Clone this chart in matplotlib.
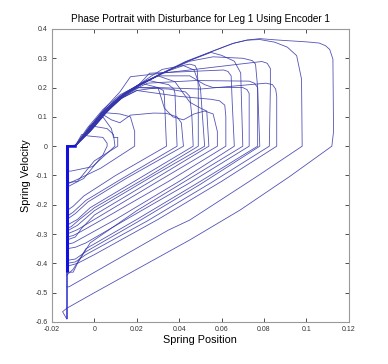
import matplotlib
matplotlib.use("Agg")
import matplotlib.pyplot as plt

# ---------------- data ----------------
title = "Phase Portrait with Disturbance for Leg 1 Using Encoder 1"
x_label = "Spring Position"
y_label = "Spring Velocity"
x_ticks = [-0.02, 0, 0.02, 0.04, 0.06, 0.08, 0.1, 0.12]
x_tick_labels = ["-0.02", "0", "0.02", "0.04", "0.06", "0.08", "0.1", "0.12"]
y_ticks = [-0.6, -0.5, -0.4, -0.3, -0.2, -0.1, 0, 0.1, 0.2, 0.3, 0.4]
y_tick_labels = ["-0.6", "-0.5", "-0.4", "-0.3", "-0.2", "-0.1", "0", "0.1", "0.2", "0.3", "0.4"]

# each cycle: (position, velocity) vertices of one trajectory loop
cycle_01 = [(-0.013, 0), (-0.009, 0.0), (-0.003, 0.06), (0.004, 0.118), (0.012, 0.17), (0.021, 0.208),
            (0.030, 0.242), (0.043, 0.289), (0.055, 0.322), (0.065, 0.35), (0.072, 0.362), (0.078, 0.367),
            (0.087, 0.362), (0.100, 0.356), (0.106, 0.352), (0.109, 0.343), (0.111, 0.33), (0.1125, 0.297),
            (0.1128, 0.05), (0.112, 0.0), (0.092, -0.104), (0.0687, -0.218), (0.045, -0.32), (0.0, -0.50),
            (-0.013, -0.553), (-0.015, -0.565), (-0.013, -0.59)]
cycle_02 = [(-0.013, 0), (-0.009, 0.0), (-0.002, 0.06), (0.005, 0.12), (0.013, 0.172), (0.022, 0.21),
            (0.031, 0.245), (0.044, 0.29), (0.056, 0.325), (0.066, 0.352), (0.072, 0.362), (0.078, 0.364),
            (0.085, 0.355), (0.091, 0.338), (0.0954, 0.309), (0.0977, 0.229), (0.098, 0.0), (0.0765, -0.104),
            (0.045, -0.252), (0.035, -0.286), (-0.012, -0.48), (-0.013, -0.48)]
cycle_03 = [(-0.013, 0), (-0.009, 0.002), (-0.001, 0.06), (0.006, 0.12), (0.0115, 0.16), (0.02, 0.19),
            (0.03, 0.2), (0.05, 0.195), (0.081, 0.215), (0.084, 0.21), (0.0855, 0.195), (0.086, 0.17),
            (0.086, 0.0), (0.06, -0.12), (0.03, -0.25), (0.0, -0.37), (-0.008, -0.40), (-0.013, -0.41)]
cycle_04 = [(-0.013, 0), (-0.009, 0.0), (-0.002, 0.065), (0.005, 0.13), (0.012, 0.185), (0.017, 0.237),
            (0.045, 0.26), (0.079, 0.289), (0.0815, 0.283), (0.083, 0.265), (0.083, 0.2), (0.0825, 0.0),
            (0.055, -0.125), (0.025, -0.255), (-0.004, -0.37), (-0.009, -0.395), (-0.013, -0.40)]
cycle_05 = [(-0.013, 0), (-0.009, 0.004), (0.0, 0.07), (0.007, 0.125), (0.015, 0.18), (0.025, 0.215),
            (0.048, 0.224), (0.073, 0.222), (0.0755, 0.215), (0.077, 0.2), (0.078, 0.0), (0.05, -0.13),
            (0.02, -0.26), (-0.004, -0.36), (-0.009, -0.385), (-0.013, -0.39)]
cycle_06 = [(-0.013, 0), (-0.009, 0.003), (-0.001, 0.065), (0.006, 0.125), (0.014, 0.178), (0.022, 0.215),
            (0.03, 0.24), (0.045, 0.24), (0.052, 0.21), (0.056, 0.2), (0.070, 0.2), (0.072, 0.193),
            (0.073, 0.18), (0.073, 0.0), (0.045, -0.125), (0.015, -0.25), (-0.004, -0.33), (-0.009, -0.345),
            (-0.013, -0.35)]
cycle_07 = [(-0.013, 0), (-0.009, 0.0), (-0.001, 0.062), (0.006, 0.12), (0.014, 0.172), (0.021, 0.21),
            (0.026, 0.249), (0.045, 0.255), (0.061, 0.26), (0.063, 0.255), (0.0645, 0.24), (0.065, 0.15),
            (0.066, 0.0), (0.04, -0.12), (0.01, -0.25), (-0.005, -0.31), (-0.010, -0.33), (-0.013, -0.335)]
cycle_08 = [(-0.013, 0), (-0.009, 0.002), (-0.002, 0.055), (0.005, 0.115), (0.012, 0.16), (0.02, 0.19),
            (0.03, 0.18), (0.04, 0.17), (0.055, 0.16), (0.059, 0.155), (0.0615, 0.14), (0.062, 0.1),
            (0.062, 0.0), (0.035, -0.12), (0.005, -0.245), (-0.006, -0.29), (-0.010, -0.305), (-0.013, -0.31)]
cycle_09 = [(-0.013, 0), (-0.009, 0.0), (-0.002, 0.062), (0.005, 0.125), (0.013, 0.175), (0.022, 0.215),
            (0.03, 0.2), (0.033, 0.13), (0.037, 0.1), (0.042, 0.09), (0.047, 0.11), (0.052, 0.12),
            (0.056, 0.11), (0.058, 0.05), (0.058, 0.0), (0.03, -0.12), (0.0, -0.25), (-0.008, -0.285),
            (-0.013, -0.30)]
cycle_10 = [(-0.013, 0), (-0.009, 0.0), (-0.002, 0.06), (0.006, 0.125), (0.014, 0.18), (0.022, 0.215),
            (0.027, 0.24), (0.032, 0.262), (0.045, 0.28), (0.0475, 0.275), (0.0485, 0.26), (0.049, 0.2),
            (0.049, 0.0), (0.025, -0.105), (0.0, -0.21), (-0.007, -0.25), (-0.011, -0.275), (-0.013, -0.28)]
cycle_11 = [(-0.013, 0), (-0.009, 0.001), (-0.002, 0.05), (0.005, 0.11), (0.012, 0.16), (0.02, 0.2),
            (0.035, 0.195), (0.043, 0.185), (0.045, 0.17), (0.046, 0.1), (0.0466, 0.0), (0.02, -0.115),
            (-0.002, -0.21), (-0.008, -0.25), (-0.013, -0.27)]
cycle_12 = [(-0.013, 0), (-0.009, 0.0), (-0.002, 0.06), (0.0036, 0.11), (0.008, 0.09), (0.012, 0.08),
            (0.017, 0.106), (0.028, 0.113), (0.034, 0.112), (0.039, 0.1), (0.041, 0.08), (0.042, 0.0),
            (0.015, -0.11), (-0.003, -0.19), (-0.009, -0.23), (-0.013, -0.25)]
cycle_13 = [(-0.013, 0), (-0.009, 0.003), (-0.003, 0.065), (0.004, 0.125), (0.012, 0.175), (0.02, 0.205),
            (0.025, 0.225), (0.035, 0.21), (0.0375, 0.195), (0.038, 0.18), (0.039, 0.0), (0.012, -0.115),
            (-0.004, -0.185), (-0.010, -0.225), (-0.013, -0.24)]
cycle_14 = [(-0.013, 0), (-0.009, 0.002), (-0.001, 0.06), (0.006, 0.12), (0.014, 0.17), (0.021, 0.2),
            (0.03, 0.2), (0.0325, 0.19), (0.033, 0.17), (0.034, 0.0), (0.01, -0.1), (-0.005, -0.17),
            (-0.010, -0.205), (-0.013, -0.22)]
cycle_15 = [(-0.013, 0), (-0.009, 0.0), (-0.003, 0.055), (0.0036, 0.115), (0.012, 0.11), (0.017, 0.1),
            (0.019, 0.05), (0.019, 0.0), (0.003, -0.075), (-0.007, -0.11), (-0.013, -0.13)]
cycle_16 = [(-0.013, 0), (-0.009, 0.002), (-0.004, 0.045), (-0.002, 0.07), (0.006, 0.06), (0.009, 0.04),
            (0.0097, 0.0), (-0.001, -0.07), (-0.011, -0.085), (-0.013, -0.085)]
cycle_17 = [(-0.013, 0), (-0.009, 0.001), (-0.006, 0.04), (-0.003, 0.035), (0.004, 0.03), (0.006, 0.01),
            (0.006, 0.0), (0.004, -0.03), (-0.005, -0.11), (-0.013, -0.14)]
cycle_18 = [(-0.013, 0), (-0.009, 0.001), (-0.001, 0.062), (0.006, 0.122), (0.014, 0.175), (0.022, 0.212),
            (0.03, 0.24), (0.038, 0.22), (0.045, 0.15), (0.05, 0.13), (0.053, 0.12), (0.054, 0.0),
            (0.03, -0.105), (0.0, -0.235), (-0.006, -0.28), (-0.009, -0.31), (-0.013, -0.32)]
cycle_19 = [(-0.013, 0), (-0.009, 0.0), (-0.003, 0.058), (0.0036, 0.116), (0.0115, 0.167), (0.021, 0.206),
            (0.030, 0.24), (0.043, 0.287), (0.055, 0.32), (0.06, 0.31), (0.066, 0.29), (0.069, 0.25),
            (0.070, 0.0), (0.045, -0.11), (0.02, -0.22), (-0.002, -0.33), (-0.008, -0.40), (-0.010, -0.43),
            (-0.013, -0.43)]
cycle_20 = [(-0.013, 0), (-0.009, 0.0), (-0.002, 0.05), (0.004, 0.1), (0.008, 0.06), (0.009, 0.03),
            (0.011, 0.03), (0.011, 0.0), (0.0, -0.05), (-0.008, -0.12), (-0.013, -0.125)]
cycle_21 = [(-0.013, 0), (-0.009, 0.002), (-0.002, 0.06), (0.005, 0.12), (0.013, 0.17), (0.022, 0.21),
            (0.032, 0.25), (0.042, 0.275), (0.047, 0.26), (0.05, 0.2), (0.051, 0.1), (0.052, 0.0),
            (0.028, -0.1), (0.0, -0.22), (-0.008, -0.27), (-0.013, -0.29)]
cycle_22 = [(-0.013, 0), (-0.009, 0.001), (-0.002, 0.065), (0.006, 0.13), (0.015, 0.185), (0.025, 0.225),
            (0.035, 0.26), (0.045, 0.29), (0.056, 0.305), (0.07, 0.3), (0.0745, 0.292), (0.076, 0.28),
            (0.077, 0.2), (0.077, 0.0), (0.05, -0.12), (0.02, -0.25), (-0.004, -0.35), (-0.010, -0.42),
            (-0.013, -0.44)]
cycles = [cycle_01, cycle_02, cycle_03, cycle_04, cycle_05, cycle_06, cycle_07, cycle_08, cycle_09,
          cycle_10, cycle_11, cycle_12, cycle_13, cycle_14, cycle_15, cycle_16, cycle_17, cycle_18,
          cycle_19, cycle_20, cycle_21, cycle_22]

# repeated vertical return stroke at the left stop
stop_position = [-0.013, -0.013]
stop_velocity_thick = [0.0, -0.43]
stop_velocity_thin = [-0.43, -0.59]
stop_flat_position = [-0.013, -0.009]
stop_flat_velocity = [0.0, 0.0]

# ---------------- drawing ----------------
fig = plt.figure(figsize=(3.88, 3.64), dpi=100)
ax = fig.add_axes([0.134, 0.1154, 0.765, 0.805])

line_col = "#3535aa"
for cyc in cycles:
    xs = [p[0] for p in cyc]
    vs = [p[1] for p in cyc]
    ax.plot(xs, vs, color=line_col, lw=0.6, alpha=0.85, solid_joinstyle="round")

ax.plot(stop_position, stop_velocity_thick, color="#1010e0", lw=2.2, solid_capstyle="butt")
ax.plot(stop_position, stop_velocity_thin, color="#2a2ad0", lw=1.1, solid_capstyle="butt")
ax.plot(stop_flat_position, stop_flat_velocity, color="#1010e0", lw=1.8)

ax.set_xlim(-0.02, 0.12)
ax.set_ylim(-0.6, 0.4)
ax.set_xticks(x_ticks)
ax.set_xticklabels(x_tick_labels)
ax.set_yticks(y_ticks)
ax.set_yticklabels(y_tick_labels)
ax.tick_params(direction="in", length=3, width=0.6, labelsize=5, colors="#333333",
               top=True, right=True)
ax.tick_params(axis="x", pad=3)
ax.tick_params(axis="y", pad=3)
for sp in ax.spines.values():
    sp.set_color("#999999")
    sp.set_linewidth(0.8)

font = "Liberation Sans"
for lab in ax.get_xticklabels() + ax.get_yticklabels():
    lab.set_family(font)
ax.set_title(title, fontsize=7.2, family=font, pad=5)
ax.set_xlabel(x_label, fontsize=7.8, family=font, labelpad=1)
ax.set_ylabel(y_label, fontsize=7.8, family=font, labelpad=3)

fig.savefig("out.png", dpi=100, facecolor="white")
